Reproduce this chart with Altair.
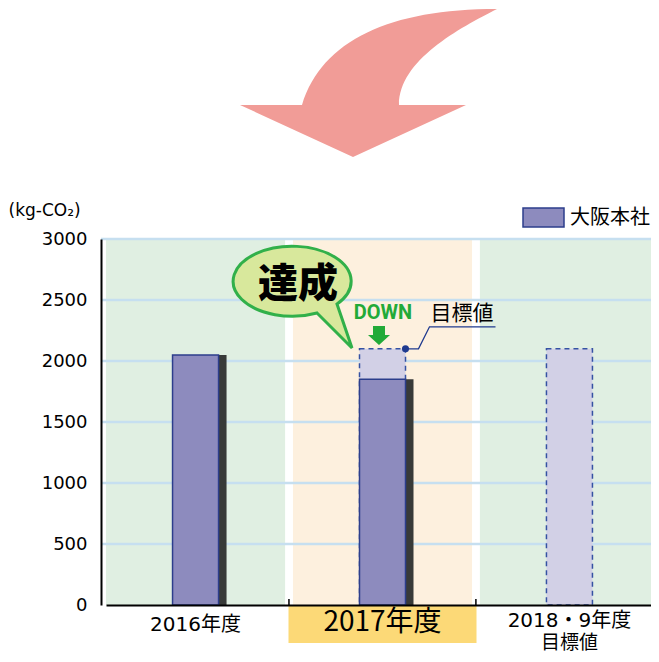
import altair as alt
import pandas as pd

# ---- data ----
categories = ["2016年度", "2017年度", "2018・9年度"]
actual_values = [2050, 1850, None]
target_values = [None, 2100, 2100]
grid_values = [500, 1000, 1500, 2000, 2500, 3000]
axis_values = [0, 500, 1000, 1500, 2000, 2500, 3000]
label_line1 = ["2016年度", "2017年度", "2018・9年度"]
label_line2 = ["", "", "目標値"]
series_name = "大阪本社"
unit_label = "(kg-CO₂)"
bubble_text = "達成"
down_text = "DOWN"
target_note = "目標値"

W, H = 550, 366      # visible plot area (page is 659 wide incl. 8px margins)
XR = 558             # band layout continues to the reference's right edge

df = pd.DataFrame({
    "cat": categories,
    "actual": actual_values,
    "target": target_values,
    "line1": label_line1,
    "line2": label_line2,
    "series": [series_name] * len(categories),
})
one = pd.DataFrame({"k": [0]})

xs = alt.Scale(domain=categories, range=[5, XR], paddingInner=0.042, paddingOuter=0)
ys = alt.Scale(domain=[0, 3000], nice=False, zero=True)

xaxis = alt.Axis(title=None, labels=False, ticks=False, grid=False, domain=True,
                 domainColor="#000000", domainWidth=2, zindex=1)
yaxis = alt.Axis(title=unit_label, titleAngle=0, titleAlign="left", titleBaseline="middle",
                 titleX=-93, titleY=-29, titleFont="DejaVu Sans", titleFontSize=17,
                 titleFontWeight="normal", titleColor="#000000",
                 values=axis_values, format="d", labelFont="DejaVu Sans", labelFontSize=18,
                 labelColor="#000000", labelPadding=14, ticks=False, tickSize=0,
                 grid=False, domain=True, domainColor="#000000", domainWidth=2, zindex=1)

X = alt.X("cat:N", scale=xs, axis=xaxis)
Y_act = alt.Y("actual:Q", scale=ys, axis=yaxis)
Y_tgt = alt.Y("target:Q", scale=ys, axis=yaxis)

c16 = alt.datum.cat == categories[0]
c17 = alt.datum.cat == categories[1]
c18 = alt.datum.cat == categories[2]

bands = alt.Chart(df).mark_rect().encode(
    x=X, y=alt.value(0), y2=alt.value(H),
    color=alt.Color("cat:N", scale=alt.Scale(domain=categories,
                    range=["#e0efe2", "#fdf0de", "#e0efe2"]), legend=None),
)

grid = alt.Chart(pd.DataFrame({"v": grid_values})).mark_rule(
    color="#c6dff0", strokeWidth=2.5
).encode(y=alt.Y("v:Q", scale=ys, axis=yaxis), x=alt.value(0), x2=alt.value(XR))

target = alt.Chart(df).transform_filter("isValid(datum.target)").mark_bar(
    width=46, fill="#d2d0e6", stroke="#3552a3", strokeWidth=1.5, strokeDash=[5, 4]
).encode(x=X, y=Y_tgt)

shadow = alt.Chart(df).transform_filter("isValid(datum.actual)").mark_bar(
    width=8, xOffset=27, color="#383a38"
).encode(x=X, y=Y_act)

actual = alt.Chart(df).transform_filter("isValid(datum.actual)").mark_bar(
    width=46, stroke="#2c3e8c", strokeWidth=1.5
).encode(
    x=X, y=Y_act,
    fill=alt.Fill("series:N", scale=alt.Scale(domain=[series_name], range=["#8d8bbe"]),
                  legend=alt.Legend(title=None, orient="none", legendX=421, legendY=-43,
                                    symbolType="M-1,-0.46H1V0.46H-1Z", symbolSize=1681,
                                    symbolStrokeColor="#2c3e8c", symbolStrokeWidth=1.5,
                                    symbolOpacity=1,
                                    labelFont="Noto Sans CJK JP", labelFontSize=20,
                                    labelColor="#000000", labelOffset=5, padding=0)),
)

ticks = alt.Chart(df).transform_filter(alt.datum.cat != categories[0]).mark_rule(
    color="#000000", strokeWidth=1.5, xOffset=-4
).encode(x=alt.X("cat:N", scale=xs, axis=xaxis, bandPosition=0),
         y=alt.value(H - 6), y2=alt.value(H))

hl_box = alt.Chart(df).transform_filter(c17).mark_bar(width=188, color="#fcd977").encode(
    x=X, y=alt.value(H), y2=alt.value(H + 38))

lab16 = alt.Chart(df).transform_filter(c16).mark_text(
    font="DejaVu Sans, Noto Sans CJK JP", fontSize=20, color="#000000", baseline="middle"
).encode(x=X, y=alt.value(386), text="line1:N")

lab17 = alt.Chart(df).transform_filter(c17).mark_text(
    font="Noto Sans CJK JP", fontSize=28, color="#000000", baseline="middle"
).encode(x=X, y=alt.value(384), text="line1:N")

lab18 = alt.Chart(df).transform_filter(c18).mark_text(
    font="DejaVu Sans, Noto Sans CJK JP", fontSize=20, color="#000000", baseline="middle"
).encode(x=X, y=alt.value(382), text="line1:N")

lab2 = alt.Chart(df).transform_filter(alt.datum.line2 != "").mark_text(
    font="Noto Sans CJK JP", fontSize=19, color="#000000", baseline="middle"
).encode(x=X, y=alt.value(403.5), text="line2:N")

# decorations
arrow_path = "M-66,22C-46,-43,22,-74,129,-74C92,-55,31,-23,31,22L98,22L-15,74L-128,22Z"
pink = alt.Chart(one).mark_point(shape=arrow_path, size=4, filled=True, fill="#f19c97",
                                 strokeWidth=0, opacity=1).encode(
    x=alt.value(267), y=alt.value(-156))

bubble_path = "M24,32L59,67L44,23A59,35 0 1 0 24,32Z"
bubble = alt.Chart(one).mark_point(shape=bubble_path, size=4, filled=True, fill="#d8e89c",
                                   stroke="#31b04a", strokeWidth=3, opacity=1).encode(
    x=alt.value(192), y=alt.value(42))

bubble_txt = alt.Chart(one).mark_text(text=bubble_text, font="Noto Sans CJK JP", fontSize=40,
                                      fontWeight=900, color="#000000").encode(
    x=alt.value(197), y=alt.value(46))

down_txt = alt.Chart(one).mark_text(text=down_text, font="Roboto", fontSize=20,
                                    fontWeight="bold", color="#22aa38").encode(
    x=alt.value(282), y=alt.value(74))

down_arrow = alt.Chart(one).mark_point(shape="M-6,-9L6,-9L6,0L11,0L0,10L-11,0L-6,0Z", size=4,
                                       filled=True, fill="#22aa38", strokeWidth=0, opacity=1).encode(
    x=alt.value(278), y=alt.value(96))

dot = alt.Chart(df).transform_filter(c17).mark_point(
    shape="circle", size=50, filled=True, fill="#1f3a8f", strokeWidth=0, opacity=1, xOffset=23
).encode(x=X, y=Y_tgt)

leader = alt.Chart(df).transform_filter(c17).mark_point(
    shape="M0,0L13,0L24,-22L90,-22", size=4, filled=False, stroke="#1f3a8f",
    strokeWidth=1.3, opacity=1, xOffset=23
).encode(x=X, y=Y_tgt)

note_txt = alt.Chart(one).mark_text(text=target_note, font="Noto Sans CJK JP", fontSize=21,
                                    color="#000000").encode(x=alt.value(361), y=alt.value(75))

chart = alt.layer(
    bands, grid, target, shadow, actual, ticks, hl_box, lab16, lab17, lab18, lab2,
    pink, bubble, bubble_txt, down_txt, down_arrow, leader, dot, note_txt,
).properties(
    width=W, height=H,
    padding={"left": 93, "top": 231, "right": 0, "bottom": 49},
    autosize=alt.AutoSizeParams(type="none"),
).configure_view(strokeWidth=0)

chart.save("out.html", embed_options={"renderer": "svg", "actions": False})
